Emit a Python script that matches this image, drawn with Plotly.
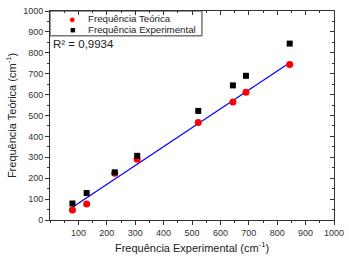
import numpy as np
import plotly.graph_objects as go

exp_freq = [79, 129, 228, 307, 522, 644, 690, 844]
teo_freq = [48, 76, 224, 291, 467, 564, 611, 744]
x_ticks = [100, 200, 300, 400, 500, 600, 700, 800, 900, 1000]
y_ticks = [0, 100, 200, 300, 400, 500, 600, 700, 800, 900, 1000]
legend_names = ["Frequência Teórica", "Frequência Experimental"]
r2_label = "R² = 0,9934"

slope, intercept = np.polyfit(exp_freq, teo_freq, 1)
fit_x = [min(exp_freq), max(exp_freq)]
fit_y = [slope * v + intercept for v in fit_x]

FONT = "Liberation Sans, Arial, sans-serif"
fig = go.Figure()
fig.add_trace(go.Scatter(x=fit_x, y=fit_y, mode="lines", line=dict(color="#0000ff", width=1.2),
                         showlegend=False, hoverinfo="skip"))
fig.add_trace(go.Scatter(x=exp_freq, y=teo_freq, mode="markers", name=legend_names[0],
                         showlegend=False, marker=dict(color="#ff0000", size=7, symbol="circle")))
fig.add_trace(go.Scatter(x=exp_freq, y=exp_freq, mode="markers", name=legend_names[1],
                         showlegend=False, marker=dict(color="#000000", size=6, symbol="square")))

axis_common = dict(showgrid=False, zeroline=False, showline=True, linecolor="#333",
                   linewidth=1, ticklen=4, tickcolor="#333", automargin=False,
                   tickfont=dict(family=FONT, size=9, color="#333"),
                   minor=dict(ticklen=2, tickcolor="#333", dtick=50, ticks="outside"))

fig.update_layout(
    width=349, height=262,
    margin=dict(l=50, r=15, t=11, b=42),
    paper_bgcolor="white", plot_bgcolor="white",
    font=dict(family=FONT, color="#222"),
    showlegend=False,
    xaxis=dict(range=[0, 1000], tickvals=x_ticks, ticks="outside",
               title=dict(text="Frequência Experimental (cm<sup>-1</sup>)", font=dict(size=11), standoff=7),
               **axis_common),
    yaxis=dict(range=[0, 1000], tickvals=y_ticks, ticks="outside",
               title=dict(text="Frequência Teórica (cm<sup>-1</sup>)", font=dict(size=11), standoff=4),
               **axis_common),
    xaxis2=dict(range=[0, 1000], overlaying="x", side="top", tickvals=x_ticks, ticks="inside",
                showticklabels=False, showgrid=False, zeroline=False, showline=True, automargin=False,
                linecolor="#333", ticklen=4, tickcolor="#333",
                minor=dict(ticklen=2, tickcolor="#333", dtick=50, ticks="inside")),
    yaxis2=dict(range=[0, 1000], overlaying="y", side="right", tickvals=y_ticks, ticks="inside",
                showticklabels=False, showgrid=False, zeroline=False, showline=True, automargin=False,
                linecolor="#333", ticklen=4, tickcolor="#333",
                minor=dict(ticklen=2, tickcolor="#333", dtick=50, ticks="inside")),
    shapes=[dict(type="rect", xref="paper", yref="paper", x0=0, x1=0.535, y0=0.881, y1=1,
                 line=dict(color="#333", width=1), fillcolor="white", layer="below")],
    annotations=[
        dict(text="●", x=0.078, y=0.964, xref="paper", yref="paper", showarrow=False,
             font=dict(size=11, color="#ff0000"), xanchor="center", yanchor="middle"),
        dict(text="■", x=0.078, y=0.910, xref="paper", yref="paper", showarrow=False,
             font=dict(size=9, color="#000000"), xanchor="center", yanchor="middle"),
        dict(text=legend_names[0], x=0.128, y=0.962, xref="paper", yref="paper", showarrow=False,
             font=dict(size=9.7, color="#222"), xanchor="left", yanchor="middle"),
        dict(text=legend_names[1], x=0.128, y=0.910, xref="paper", yref="paper", showarrow=False,
             font=dict(size=9.7, color="#222"), xanchor="left", yanchor="middle"),
        dict(text=r2_label, x=0.004, y=0.842, xref="paper", yref="paper",
             xanchor="left", yanchor="middle", showarrow=False,
             font=dict(size=11.5, color="#222")),
    ],
)
fig.add_trace(go.Scatter(x=[None], y=[None], xaxis="x2", yaxis="y2", showlegend=False))

fig.write_html("out.html", config={"displayModeBar": False},
               post_script="document.body.style.margin='0';document.body.style.padding='0';")
